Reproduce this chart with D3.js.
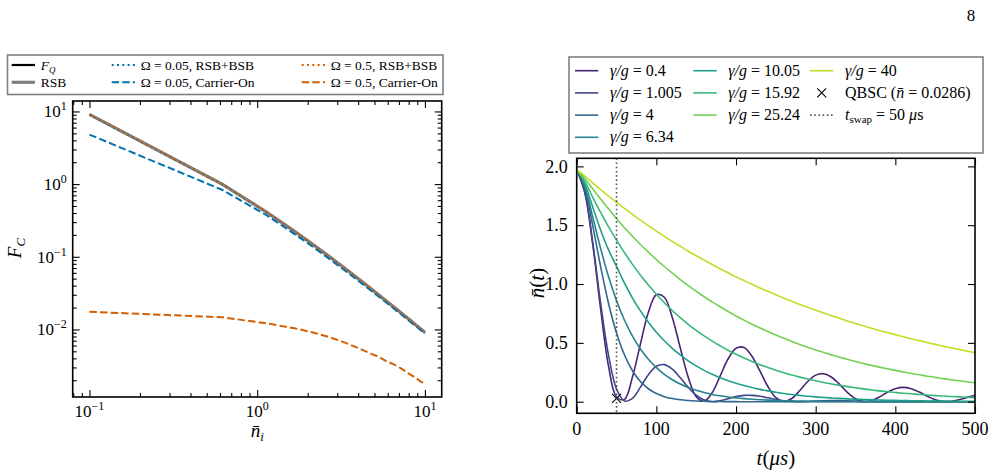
<!DOCTYPE html>
<html>
<head>
<meta charset="utf-8">
<script src="https://cdn.jsdelivr.net/npm/d3@7"></script>
<style>
body { margin: 0; background: #fff; }
svg { display: block; }
</style>
</head>
<body>
<script>
// ---- left panel: F_C vs mean phonon number ----
var nBar = [0.1, 0.621, 1.142, 1.663, 2.184, 2.705, 3.226, 3.747, 4.268, 4.789, 5.311, 5.832, 6.353, 6.874, 7.395, 7.916, 8.437, 8.958, 9.479, 10];
var fQ = [9.09, 0.993, 0.409, 0.226, 0.1438, 0.0998, 0.0733, 0.0562, 0.0445, 0.0361, 0.0298, 0.0251, 0.0214, 0.0185, 0.0161, 0.0142, 0.0126, 0.0112, 0.0101, 0.0091];
var rsb = [9.09, 0.993, 0.409, 0.226, 0.1438, 0.0998, 0.0733, 0.0562, 0.0445, 0.0361, 0.0298, 0.0251, 0.0214, 0.0185, 0.0161, 0.0142, 0.0126, 0.0112, 0.0101, 0.0091];
var rsbBsb005 = [9.0, 0.985, 0.405, 0.224, 0.1425, 0.0989, 0.0727, 0.0557, 0.0441, 0.0358, 0.0296, 0.0249, 0.0212, 0.0183, 0.016, 0.0141, 0.0125, 0.0111, 0.01, 0.009];
var carrier005 = [4.8, 0.83, 0.37, 0.207, 0.133, 0.0928, 0.0685, 0.0526, 0.0418, 0.034, 0.0282, 0.0238, 0.0203, 0.0176, 0.0154, 0.0135, 0.012, 0.0108, 0.0097, 0.0088];
var rsbBsb05 = [9.09, 0.993, 0.409, 0.226, 0.1438, 0.0998, 0.0733, 0.0562, 0.0445, 0.0361, 0.0298, 0.0251, 0.0214, 0.0185, 0.0161, 0.0142, 0.0126, 0.0112, 0.0101, 0.0091];
var carrier05 = [0.0175, 0.0147, 0.0121, 0.0104, 0.009, 0.0078, 0.0068, 0.0059, 0.0052, 0.0046, 0.0042, 0.0037, 0.0034, 0.0031, 0.0028, 0.0025, 0.0023, 0.0021, 0.0019, 0.0018];

// ---- right panel: n(t) for several gamma/g ----
var tUs = [0, 10, 20, 30, 40, 50, 60, 70, 80, 90, 100, 110, 120, 130, 140, 150, 160, 170, 180, 190, 200, 210, 220, 230, 240, 250, 260, 270, 280, 290, 300, 310, 320, 330, 340, 350, 360, 370, 380, 390, 400, 410, 420, 430, 440, 450, 460, 470, 480, 490, 500];
var gammaLabels = ["0.4", "1.005", "4", "6.34", "10.05", "15.92", "25.24", "40"];
var n0_4 = [1.97, 1.78, 1.345, 0.79, 0.30, 0.04, 0.02, 0.21, 0.49, 0.76,
  0.909, 0.888, 0.716, 0.458, 0.208, 0.043, 0.004, 0.076, 0.218, 0.363,
  0.454, 0.461, 0.387, 0.261, 0.129, 0.034, 0.002, 0.027, 0.095, 0.172,
  0.226, 0.238, 0.208, 0.147, 0.078, 0.025, 0.002, 0.009, 0.04, 0.081,
  0.111, 0.122, 0.111, 0.082, 0.047, 0.017, 0.002, 0.003, 0.017, 0.037, 0.054];
var n1_005 = [1.97, 1.79, 1.36, 0.84, 0.394, 0.108, 0.006, 0.028, 0.124, 0.23,
  0.301, 0.315, 0.276, 0.204, 0.122, 0.055, 0.014, 0, 0.007, 0.025,
  0.043, 0.054, 0.054, 0.046, 0.033, 0.019, 0.008, 0.002, 0, 0.002,
  0.005, 0.008, 0.0095, 0.009, 0.007, 0.005, 0.003, 0.0015, 0.0005, 0.0002,
  0.0003, 0.0006, 0.0009, 0.001, 0.0009, 0.0007, 0.0004, 0.0002, 0.0001, 0.0001, 0.0001];
var n4 = [1.97, 1.82, 1.501, 1.149, 0.835, 0.584, 0.397, 0.263, 0.171, 0.11,
  0.069, 0.043, 0.027, 0.016, 0.01, 0.006, 0.0036, 0.0021, 0.0013, 0.0007,
  0.0004, 0.0002, 0.0001, 0, 0, 0, 0, 0, 0, 0,
  0, 0, 0, 0, 0, 0, 0, 0, 0, 0,
  0, 0, 0, 0, 0, 0, 0, 0, 0, 0, 0];
var n6_34 = [1.97, 1.835, 1.574, 1.303, 1.062, 0.859, 0.692, 0.558, 0.448, 0.36,
  0.289, 0.232, 0.187, 0.15, 0.12, 0.097, 0.078, 0.062, 0.05, 0.04,
  0.032, 0.026, 0.021, 0.017, 0.0135, 0.011, 0.0087, 0.007, 0.0056, 0.0045,
  0.0036, 0.0029, 0.0023, 0.0019, 0.0015, 0.0012, 0.001, 0.0008, 0.0006, 0.0005,
  0.0004, 0.0003, 0.0003, 0.0002, 0.0002, 0.0001, 0.0001, 0.0001, 0.0001, 0, 0];
var n10_05 = [1.97, 1.854, 1.657, 1.46, 1.29, 1.15, 1.007, 0.881, 0.772, 0.676,
  0.591, 0.518, 0.453, 0.397, 0.347, 0.304, 0.266, 0.233, 0.204, 0.179,
  0.156, 0.137, 0.12, 0.105, 0.092, 0.08, 0.07, 0.061, 0.054, 0.047,
  0.041, 0.036, 0.032, 0.028, 0.024, 0.021, 0.019, 0.016, 0.014, 0.0125,
  0.011, 0.0096, 0.0084, 0.0073, 0.0064, 0.0056, 0.0049, 0.0043, 0.0038, 0.0033, 0.0029];
var n15_92 = [1.97, 1.876, 1.739, 1.608, 1.486, 1.374, 1.266, 1.167, 1.075, 0.991,
  0.913, 0.841, 0.775, 0.714, 0.658, 0.607, 0.559, 0.515, 0.475, 0.437,
  0.403, 0.371, 0.342, 0.315, 0.291, 0.268, 0.247, 0.227, 0.209, 0.193,
  0.178, 0.164, 0.151, 0.139, 0.128, 0.118, 0.109, 0.1, 0.092, 0.085,
  0.078, 0.072, 0.067, 0.061, 0.057, 0.052, 0.048, 0.044, 0.041, 0.038, 0.035];
var n25_24 = [1.97, 1.899, 1.809, 1.722, 1.639, 1.555, 1.478, 1.406, 1.336, 1.271,
  1.208, 1.149, 1.092, 1.038, 0.987, 0.939, 0.892, 0.849, 0.807, 0.767,
  0.729, 0.693, 0.659, 0.627, 0.596, 0.567, 0.539, 0.512, 0.487, 0.463,
  0.44, 0.419, 0.398, 0.378, 0.36, 0.342, 0.325, 0.309, 0.294, 0.28,
  0.266, 0.253, 0.24, 0.229, 0.217, 0.207, 0.196, 0.187, 0.178, 0.169, 0.161];
var n40 = [1.97, 1.92, 1.86, 1.803, 1.748, 1.695, 1.642, 1.592, 1.543, 1.496,
  1.45, 1.405, 1.362, 1.321, 1.279, 1.24, 1.203, 1.166, 1.13, 1.096,
  1.061, 1.029, 0.998, 0.967, 0.938, 0.909, 0.88, 0.853, 0.827, 0.802,
  0.778, 0.754, 0.731, 0.709, 0.686, 0.665, 0.645, 0.625, 0.606, 0.588,
  0.57, 0.552, 0.535, 0.519, 0.503, 0.487, 0.472, 0.458, 0.444, 0.43, 0.417];
var qbscPoint = [50, 0.0286];
var tSwap = 50;
var xTicksR = [0, 100, 200, 300, 400, 500];
var yTicksR = [0, 0.5, 1, 1.5, 2];
var yTickLabelsR = ["0.0", "0.5", "1.0", "1.5", "2.0"];

var FONT = "'Liberation Serif', 'DejaVu Serif', 'Times New Roman', serif";
var svg = d3.select("body").append("svg").attr("width", 1001).attr("height", 474)
  .attr("font-family", FONT).style("font-family", FONT);
svg.append("rect").attr("width", 1001).attr("height", 474).attr("fill", "#fff");

// write a run of plain / italic / shifted pieces into a text node
function runs(text, parts) {
  text.attr("font-family", FONT).attr("fill", "#000");
  parts.forEach(function(p) {
    var ts = text.append("tspan").text(p.t);
    if (p.i) ts.attr("font-style", "italic");
    if (p.dy) ts.attr("dy", p.dy);
    if (p.fs) ts.attr("font-size", p.fs);
  });
  return text;
}

function inTicks(g, axisFn, scale, values, size) {
  g.call(axisFn(scale).tickValues(values).tickSize(-size).tickSizeOuter(0).tickFormat(""));
  g.select(".domain").remove();
  g.selectAll("line").attr("stroke", "#000").attr("stroke-width", 1.1);
}

function logPad(ext, f) {
  var a = Math.log10(ext[0]), b = Math.log10(ext[1]), p = (b - a) * f;
  return [Math.pow(10, a - p), Math.pow(10, b + p)];
}

// ================= left =================
var bL = {x0: 72.7, x1: 441.7, y0: 101, y1: 397};
var leftSeries = [
  {v: fQ, c: "#000", w: 2.2, dash: null},
  {v: rsb, c: "#808080", w: 3.2, dash: null},
  {v: rsbBsb005, c: "#0072B2", w: 2, dash: "2,3.3"},
  {v: carrier005, c: "#0072B2", w: 2, dash: "7.4,3.2"},
  {v: rsbBsb05, c: "#D55E00", w: 2, dash: "2,3.3"},
  {v: carrier05, c: "#D55E00", w: 2, dash: "7.4,3.2"}
];
var allF = d3.merge(leftSeries.map(function(s) { return s.v; }));
var xL = d3.scaleLog().domain(logPad(d3.extent(nBar), 0.05)).range([bL.x0, bL.x1]);
var yL = d3.scaleLog().domain(logPad(d3.extent(allF), 0.05)).range([bL.y1, bL.y0]);

svg.append("clipPath").attr("id", "clipL").append("rect")
  .attr("x", bL.x0).attr("y", bL.y0).attr("width", bL.x1 - bL.x0).attr("height", bL.y1 - bL.y0);
var lineL = d3.line().x(function(d, i) { return xL(nBar[i]); }).y(function(d) { return yL(d); });
var gL = svg.append("g").attr("clip-path", "url(#clipL)");
leftSeries.forEach(function(s) {
  gL.append("path").attr("d", lineL(s.v)).attr("fill", "none")
    .attr("stroke", s.c).attr("stroke-width", s.w).attr("stroke-dasharray", s.dash);
});

function isMajor(v) { var l = Math.log10(v); return Math.abs(l - Math.round(l)) < 1e-6; }
var xtL = xL.ticks(), ytL = yL.ticks();
var xMajL = xtL.filter(isMajor), xMinL = xtL.filter(function(v) { return !isMajor(v); });
var yMajL = ytL.filter(isMajor), yMinL = ytL.filter(function(v) { return !isMajor(v); });

[[d3.axisBottom, bL.y1], [d3.axisTop, bL.y0]].forEach(function(a) {
  inTicks(svg.append("g").attr("transform", "translate(0," + a[1] + ")"), a[0], xL, xMajL, 7);
  inTicks(svg.append("g").attr("transform", "translate(0," + a[1] + ")"), a[0], xL, xMinL, 4);
});
[[d3.axisLeft, bL.x0], [d3.axisRight, bL.x1]].forEach(function(a) {
  inTicks(svg.append("g").attr("transform", "translate(" + a[1] + ",0)"), a[0], yL, yMajL, 7);
  inTicks(svg.append("g").attr("transform", "translate(" + a[1] + ",0)"), a[0], yL, yMinL, 4);
});
svg.append("rect").attr("x", bL.x0).attr("y", bL.y0).attr("width", bL.x1 - bL.x0).attr("height", bL.y1 - bL.y0)
  .attr("fill", "none").attr("stroke", "#000").attr("stroke-width", 1.6);

function expLabel(v) { return String(Math.round(Math.log10(v))).replace("-", "\u2212"); }
xMajL.forEach(function(v) {
  runs(svg.append("text").attr("x", xL(v)).attr("y", bL.y1 + 20).attr("text-anchor", "middle").attr("font-size", 17),
    [{t: "10"}, {t: expLabel(v), dy: -7, fs: 12}]);
});
yMajL.forEach(function(v) {
  runs(svg.append("text").attr("x", bL.x0 - 6).attr("y", yL(v) + 6).attr("text-anchor", "end").attr("font-size", 17),
    [{t: "10"}, {t: expLabel(v), dy: -7, fs: 12}]);
});
runs(svg.append("text").attr("x", (bL.x0 + bL.x1) / 2).attr("y", 437).attr("text-anchor", "middle").attr("font-size", 19),
  [{t: "n\u0304", i: 1}, {t: "i", i: 1, dy: 4, fs: 13}]);
runs(svg.append("text").attr("transform", "translate(21,248) rotate(-90)").attr("text-anchor", "middle").attr("font-size", 19),
  [{t: "F", i: 1}, {t: "C", i: 1, dy: 4, fs: 13}]);

// legend left
svg.append("rect").attr("x", 7.5).attr("y", 55).attr("width", 435.5).attr("height", 39.5)
  .attr("fill", "#fff").attr("stroke", "#808080").attr("stroke-width", 1.6);
var legL = [
  {s: 0, x: 11.7, y: 65, txt: [{t: "F", i: 1}, {t: "Q", i: 1, dy: 3, fs: 9}]},
  {s: 1, x: 11.7, y: 82.3, txt: [{t: "RSB"}]},
  {s: 2, x: 111.7, y: 65, txt: [{t: "\u03A9 = 0.05, RSB+BSB"}]},
  {s: 3, x: 111.7, y: 82.3, txt: [{t: "\u03A9 = 0.05, Carrier-On"}]},
  {s: 4, x: 301.7, y: 65, txt: [{t: "\u03A9 = 0.5, RSB+BSB"}]},
  {s: 5, x: 301.7, y: 82.3, txt: [{t: "\u03A9 = 0.5, Carrier-On"}]}
];
legL.forEach(function(e) {
  var s = leftSeries[e.s];
  svg.append("line").attr("x1", e.x).attr("x2", e.x + 23.3).attr("y1", e.y).attr("y2", e.y)
    .attr("stroke", s.c).attr("stroke-width", s.w).attr("stroke-dasharray", s.dash);
  runs(svg.append("text").attr("x", e.x + 29).attr("y", e.y + 4.5).attr("font-size", 13.5), e.txt);
});

// ================= right =================
var bR = {x0: 576.7, x1: 975, y0: 158.3, y1: 413.3};
var seriesR = [n0_4, n1_005, n4, n6_34, n10_05, n15_92, n25_24, n40];
var extR = d3.extent(d3.merge(seriesR)), padR = (extR[1] - extR[0]) * 0.05;
var xR = d3.scaleLinear().domain(d3.extent(tUs)).range([bR.x0, bR.x1]);
var yR = d3.scaleLinear().domain([extR[0] - padR, extR[1] + padR]).range([bR.y1, bR.y0]);
function colR(i) { return d3.interpolateViridis(0.1 + 0.8 * i / (seriesR.length - 1)); }

svg.append("clipPath").attr("id", "clipR").append("rect")
  .attr("x", bR.x0).attr("y", bR.y0).attr("width", bR.x1 - bR.x0).attr("height", bR.y1 - bR.y0);
var gR = svg.append("g").attr("clip-path", "url(#clipR)");
var lineR = d3.line().x(function(d, i) { return xR(tUs[i]); }).y(function(d) { return yR(d); }).curve(d3.curveCatmullRom);
seriesR.forEach(function(s, i) {
  gR.append("path").attr("d", lineR(s)).attr("fill", "none").attr("stroke", colR(i)).attr("stroke-width", 1.6);
});
// QBSC marker
var mx = xR(qbscPoint[0]), my = yR(qbscPoint[1]);
gR.append("path").attr("d", "M" + (mx - 4.5) + "," + (my - 4.5) + "L" + (mx + 4.5) + "," + (my + 4.5) +
  "M" + (mx - 4.5) + "," + (my + 4.5) + "L" + (mx + 4.5) + "," + (my - 4.5))
  .attr("stroke", "#000").attr("stroke-width", 1.1);
// t_swap
gR.append("line").attr("x1", xR(tSwap)).attr("x2", xR(tSwap)).attr("y1", bR.y0).attr("y2", bR.y1)
  .attr("stroke", "#555").attr("stroke-width", 1.6).attr("stroke-dasharray", "1.6,2.6");

inTicks(svg.append("g").attr("transform", "translate(0," + bR.y1 + ")"), d3.axisBottom, xR, xTicksR, 7);
inTicks(svg.append("g").attr("transform", "translate(0," + bR.y0 + ")"), d3.axisTop, xR, xTicksR, 7);
inTicks(svg.append("g").attr("transform", "translate(" + bR.x0 + ",0)"), d3.axisLeft, yR, yTicksR, 7);
inTicks(svg.append("g").attr("transform", "translate(" + bR.x1 + ",0)"), d3.axisRight, yR, yTicksR, 7);
svg.append("rect").attr("x", bR.x0).attr("y", bR.y0).attr("width", bR.x1 - bR.x0).attr("height", bR.y1 - bR.y0)
  .attr("fill", "none").attr("stroke", "#000").attr("stroke-width", 1.6);

xTicksR.forEach(function(v) {
  runs(svg.append("text").attr("x", xR(v)).attr("y", bR.y1 + 22).attr("text-anchor", "middle").attr("font-size", 18), [{t: String(v)}]);
});
yTicksR.forEach(function(v, i) {
  runs(svg.append("text").attr("x", bR.x0 - 9).attr("y", yR(v) + 6.3).attr("text-anchor", "end").attr("font-size", 18), [{t: yTickLabelsR[i]}]);
});
runs(svg.append("text").attr("x", (bR.x0 + bR.x1) / 2).attr("y", 465).attr("text-anchor", "middle").attr("font-size", 21),
  [{t: "t", i: 1}, {t: "("}, {t: "\u03BCs", i: 1}, {t: ")"}]);
runs(svg.append("text").attr("transform", "translate(544,283) rotate(-90)").attr("text-anchor", "middle").attr("font-size", 21),
  [{t: "n\u0304", i: 1}, {t: "("}, {t: "t", i: 1}, {t: ")"}]);

// legend right
svg.append("rect").attr("x", 569).attr("y", 57).attr("width", 414).attr("height", 96)
  .attr("fill", "#fff").attr("stroke", "#808080").attr("stroke-width", 1.6);
var colX = [575, 693.3, 810], rowY = [70.7, 92.9, 115.1, 137.3];
var slots = [[0, 0], [0, 1], [0, 2], [0, 3], [1, 0], [1, 1], [1, 2], [2, 0], [2, 1], [2, 2]];
gammaLabels.forEach(function(lab, i) {
  var x = colX[slots[i][0]], y = rowY[slots[i][1]];
  svg.append("line").attr("x1", x).attr("x2", x + 23.3).attr("y1", y).attr("y2", y)
    .attr("stroke", colR(i)).attr("stroke-width", 1.6);
  runs(svg.append("text").attr("x", x + 35).attr("y", y + 5).attr("font-size", 16),
    [{t: "\u03B3/g", i: 1}, {t: " = " + lab}]);
});
var qs = slots[8], ts = slots[9];
var qx = colX[qs[0]] + 11.7, qy = rowY[qs[1]];
svg.append("path").attr("d", "M" + (qx - 4.5) + "," + (qy - 4.5) + "L" + (qx + 4.5) + "," + (qy + 4.5) +
  "M" + (qx - 4.5) + "," + (qy + 4.5) + "L" + (qx + 4.5) + "," + (qy - 4.5))
  .attr("stroke", "#000").attr("stroke-width", 1.1);
runs(svg.append("text").attr("x", colX[qs[0]] + 35).attr("y", qy + 5).attr("font-size", 16),
  [{t: "QBSC ("}, {t: "n\u0304", i: 1}, {t: " = 0.0286)"}]);
svg.append("line").attr("x1", colX[ts[0]]).attr("x2", colX[ts[0]] + 23.3).attr("y1", rowY[ts[1]]).attr("y2", rowY[ts[1]])
  .attr("stroke", "#555").attr("stroke-width", 1.6).attr("stroke-dasharray", "1.6,2.6");
runs(svg.append("text").attr("x", colX[ts[0]] + 35).attr("y", rowY[ts[1]] + 5).attr("font-size", 16),
  [{t: "t", i: 1}, {t: "swap", dy: 3, fs: 11}, {t: " = 50 ", dy: -3}, {t: "\u03BC", i: 1}, {t: "s"}]);

// page number
runs(svg.append("text").attr("x", 971).attr("y", 21).attr("text-anchor", "middle").attr("font-size", 17), [{t: "8"}]);
</script>
</body>
</html>
